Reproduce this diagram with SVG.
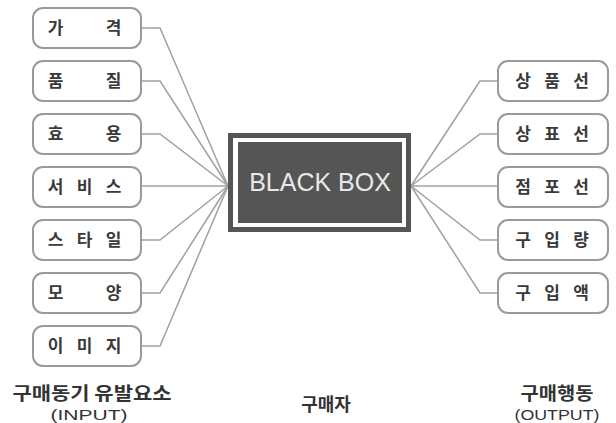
<svg xmlns="http://www.w3.org/2000/svg" width="616" height="423" viewBox="0 0 616 423">
<style>
.box{fill:#fff;stroke:#9a9a9a;stroke-width:2}
.lbl{font-family:"Noto Sans CJK KR","Noto Sans",sans-serif;font-size:17px;font-weight:bold;fill:#3a3a3a;text-anchor:middle}
.con{fill:none;stroke:#a0a0a0;stroke-width:1.5}
.cap{font-family:"Noto Sans CJK KR","Noto Sans",sans-serif;font-size:18px;font-weight:bold;fill:#333;text-anchor:middle}
.sub{font-family:"Liberation Sans",Arial,sans-serif;font-size:15px;fill:#333;text-anchor:middle}
</style>
<rect width="616" height="423" fill="#fff"/>
<g id="connectors">
<polyline class="con" points="142,28 160,28 228,186"/>
<polyline class="con" points="142,81 160,81 228,186"/>
<polyline class="con" points="142,134 160,134 228,186"/>
<polyline class="con" points="142,186 228,186"/>
<polyline class="con" points="142,240 160,240 228,186"/>
<polyline class="con" points="142,293 160,293 228,186"/>
<polyline class="con" points="142,346 160,346 228,186"/>
<polyline class="con" points="498,81 480,81 411,186"/>
<polyline class="con" points="498,134 480,134 411,186"/>
<polyline class="con" points="498,186 411,186"/>
<polyline class="con" points="498,240 480,240 411,186"/>
<polyline class="con" points="498,293 480,293 411,186"/>
</g>
<g id="in1"><rect class="box" x="33" y="8" width="108" height="40" rx="10"/><text class="lbl" x="55.5" y="34">가</text><text class="lbl" x="113.5" y="34">격</text></g>
<g id="in2"><rect class="box" x="33" y="61" width="108" height="40" rx="10"/><text class="lbl" x="55.5" y="87">품</text><text class="lbl" x="113.5" y="87">질</text></g>
<g id="in3"><rect class="box" x="33" y="114" width="108" height="40" rx="10"/><text class="lbl" x="55.5" y="140">효</text><text class="lbl" x="113.5" y="140">용</text></g>
<g id="in4"><rect class="box" x="33" y="167" width="108" height="40" rx="10"/><text class="lbl" x="55.5" y="193">서</text><text class="lbl" x="84.5" y="193">비</text><text class="lbl" x="113.5" y="193">스</text></g>
<g id="in5"><rect class="box" x="33" y="220" width="108" height="40" rx="10"/><text class="lbl" x="55.5" y="246">스</text><text class="lbl" x="84.5" y="246">타</text><text class="lbl" x="113.5" y="246">일</text></g>
<g id="in6"><rect class="box" x="33" y="273" width="108" height="40" rx="10"/><text class="lbl" x="55.5" y="299">모</text><text class="lbl" x="113.5" y="299">양</text></g>
<g id="in7"><rect class="box" x="33" y="326" width="108" height="40" rx="10"/><text class="lbl" x="55.5" y="352">이</text><text class="lbl" x="84.5" y="352">미</text><text class="lbl" x="113.5" y="352">지</text></g>
<g id="blackbox">
<rect x="230.5" y="135.5" width="178" height="94" fill="#fff" stroke="#555" stroke-width="5"/>
<rect x="238" y="142" width="164" height="81" fill="#555"/>
<text x="320" y="191" font-family="Liberation Sans,Arial,sans-serif" font-size="25" fill="#e8e8e8" text-anchor="middle">BLACK BOX</text>
</g>
<g id="out1"><rect class="box" x="498" y="61" width="110" height="40" rx="10"/><text class="lbl" x="523" y="87">상</text><text class="lbl" x="552" y="87">품</text><text class="lbl" x="581" y="87">선</text></g>
<g id="out2"><rect class="box" x="498" y="114" width="110" height="40" rx="10"/><text class="lbl" x="523" y="140">상</text><text class="lbl" x="552" y="140">표</text><text class="lbl" x="581" y="140">선</text></g>
<g id="out3"><rect class="box" x="498" y="167" width="110" height="40" rx="10"/><text class="lbl" x="523" y="193">점</text><text class="lbl" x="552" y="193">포</text><text class="lbl" x="581" y="193">선</text></g>
<g id="out4"><rect class="box" x="498" y="220" width="110" height="40" rx="10"/><text class="lbl" x="523" y="246">구</text><text class="lbl" x="552" y="246">입</text><text class="lbl" x="581" y="246">량</text></g>
<g id="out5"><rect class="box" x="498" y="273" width="110" height="40" rx="10"/><text class="lbl" x="523" y="299">구</text><text class="lbl" x="552" y="299">입</text><text class="lbl" x="581" y="299">액</text></g>
<g id="captions">
<text class="cap" x="92" y="400" textLength="159" lengthAdjust="spacingAndGlyphs">구매동기 유발요소</text>
<text class="sub" x="89" y="420" textLength="77" lengthAdjust="spacingAndGlyphs">(INPUT)</text>
<text class="cap" x="326" y="411">구매자</text>
<text class="cap" x="557" y="400" textLength="73" lengthAdjust="spacingAndGlyphs">구매행동</text>
<text class="sub" x="557" y="420" textLength="85" lengthAdjust="spacingAndGlyphs">(OUTPUT)</text>
</g>
</svg>
